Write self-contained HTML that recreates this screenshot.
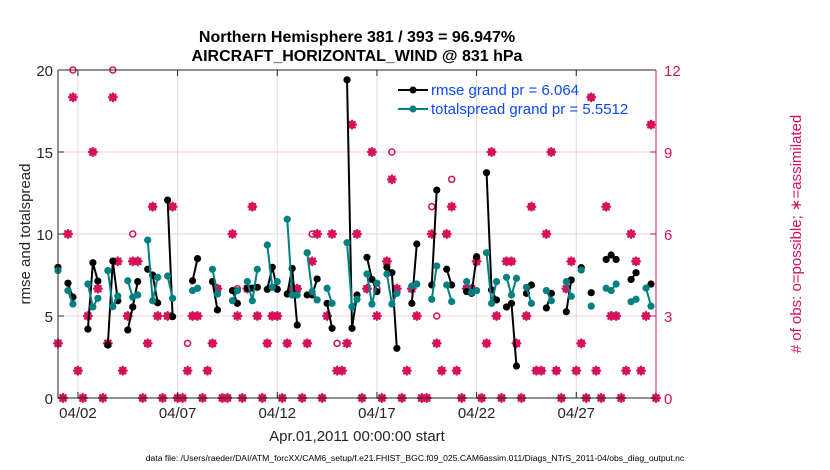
<!DOCTYPE html>
<html><head><meta charset="utf-8">
<style>
html,body{margin:0;padding:0;background:#fff;}
svg{display:block;font-family:"Liberation Sans",Arial,sans-serif;}
</style></head>
<body>
<svg id="chart" width="830" height="470" viewBox="0 0 830 470" xmlns="http://www.w3.org/2000/svg">
<g id="grid"></g>
<g id="counts"></g>
<g id="series"></g>
<g id="axes"></g>
<text x="357" y="42" text-anchor="middle" font-size="16" font-weight="bold">Northern Hemisphere 381  / 393 = 96.947%</text>
<text x="357" y="61" text-anchor="middle" font-size="16" font-weight="bold">AIRCRAFT_HORIZONTAL_WIND @ 831 hPa</text>
<text transform="translate(30,234) rotate(-90)" text-anchor="middle" font-size="15" fill="#262626">rmse and totalspread</text>
<text transform="translate(801,234) rotate(-90)" text-anchor="middle" font-size="15" fill="#d6105a"># of obs: o=possible; ∗=assimilated</text>
<text x="357" y="441" text-anchor="middle" font-size="15" fill="#262626">Apr.01,2011 00:00:00 start</text>
<text x="415" y="461" text-anchor="middle" font-size="8.6" fill="#000">data file: /Users/raeder/DAI/ATM_forcXX/CAM6_setup/f.e21.FHIST_BGC.f09_025.CAM6assim.011/Diags_NTrS_2011-04/obs_diag_output.nc</text>
<g>
  <line x1="398" y1="90" x2="428" y2="90" stroke="#000" stroke-width="2"/>
  <circle cx="413" cy="90" r="3.5" fill="#000"/>
  <text x="431" y="95" font-size="15" fill="#0a4af5">rmse grand pr = 6.064</text>
  <line x1="398" y1="109" x2="428" y2="109" stroke="#008080" stroke-width="2"/>
  <circle cx="413" cy="109" r="3.5" fill="#008080"/>
  <text x="431" y="114" font-size="15" fill="#0a4af5">totalspread grand pr = 5.5512</text>
</g>
</svg>
<script>
const N = 121;
const rmsePairs = [[0,7.97],[2,7.0],[3,6.15],[6,4.2],[7,8.25],[8,7.13],[10,3.23],[11,8.35],[12,5.93],[14,4.15],[15,5.55],[16,7.1],[18,7.85],[19,7.5],[20,5.8],[22,12.07],[23,4.96],[27,7.15],[28,8.5],[31,7.1],[32,5.37],[35,6.55],[36,5.77],[38,6.69],[39,6.7],[40,6.75],[42,6.63],[43,7.97],[44,6.63],[46,6.34],[47,7.9],[48,4.45],[50,6.28],[51,6.28],[52,7.26],[54,5.77],[55,4.25],[58,19.4],[59,4.25],[60,6.28],[62,8.58],[63,7.23],[64,6.49],[66,7.97],[67,7.64],[68,3.03],[71,5.77],[72,9.39],[75,6.89],[76,12.68],[78,7.85],[79,6.89],[82,6.49],[83,6.38],[84,8.62],[86,13.74],[87,6.59],[88,5.98],[90,5.55],[91,5.77],[92,1.95],[94,6.38],[95,6.89],[98,5.49],[99,6.38],[102,5.26],[103,7.2],[105,7.95],[107,6.42],[110,8.45],[111,8.72],[112,8.45],[115,7.23],[116,7.64],[119,6.95]];
const spreadPairs = [[0,7.77],[2,6.55],[3,5.73],[6,6.95],[7,5.55],[8,6.08],[10,7.77],[11,5.57],[12,6.22],[14,7.15],[15,6.15],[16,6.28],[18,9.63],[19,5.93],[20,7.36],[22,7.44],[23,6.08],[27,6.55],[28,6.69],[31,7.85],[32,6.34],[35,5.93],[36,6.55],[38,7.1],[39,5.93],[40,7.85],[42,9.33],[43,6.75],[44,7.1],[46,10.9],[47,6.28],[48,6.28],[50,8.86],[51,6.49],[52,5.98],[54,6.69],[55,5.77],[58,9.47],[59,5.57],[60,6.02],[62,7.56],[63,5.73],[64,7.0],[66,7.56],[67,5.73],[68,6.38],[71,6.83],[72,6.95],[75,6.02],[76,8.05],[78,6.89],[79,5.88],[82,7.1],[83,6.43],[84,6.55],[86,8.86],[87,5.77],[88,7.1],[90,7.36],[91,6.28],[92,7.3],[94,6.75],[95,5.77],[98,6.55],[99,5.93],[102,7.1],[103,6.2],[105,7.8],[107,5.6],[110,6.69],[111,6.55],[112,6.95],[115,5.87],[116,6.02],[118,6.7],[119,5.6]];
const assimilated = [2,0,6,11,1,0,3,9,4,0,2,11,5,1,3,5,5,0,2,7,3,0,3,7,0,0,1,3,3,0,1,2,4,0,0,6,3,0,4,7,3,0,2,3,3,0,2,4,4,0,2,5,6,0,3,6,1,1,2,10,6,0,4,9,3,0,5,8,4,0,1,4,3,0,0,6,2,1,6,7,1,0,4,4,5,0,2,9,3,0,5,5,2,0,3,7,1,1,6,9,1,0,4,5,1,2,0,11,1,0,7,3,3,0,1,6,5,1,3,10,0];
const possibleDiff = [[3,12],[11,12],[15,6],[26,2],[36,4],[51,6],[56,2],[64,4],[67,9],[75,7],[76,3],[79,8]];
const xTickDays = [1,6,11,16,21,26];
const xTickLabels = ["04/02","04/07","04/12","04/17","04/22","04/27"];
const yTicks = [0,5,10,15,20];
const y2Ticks = [0,3,6,9,12];

const NS="http://www.w3.org/2000/svg";
const L=58,R=656,T=70,B=398;
const xs=d=>L+(d/30)*(R-L);
const ys=v=>B-(v/20)*(B-T);
const y2s=v=>B-(v/12)*(B-T);
const xi=i=>xs(i*0.25);
function mk(tag,attrs,parent){const e=document.createElementNS(NS,tag);for(const k in attrs)e.setAttribute(k,attrs[k]);parent.appendChild(e);return e;}
const grid=document.getElementById('grid'),axes=document.getElementById('axes'),counts=document.getElementById('counts'),series=document.getElementById('series');

xTickDays.forEach((d,k)=>{
  const g=mk('line',{x1:xs(d),x2:xs(d),y1:T,y2:B,stroke:'#dcdcdc','stroke-width':1},grid);
  
  
  mk('line',{x1:xs(d),x2:xs(d),y1:B,y2:B-6,stroke:'#262626'},axes);
  mk('line',{x1:xs(d),x2:xs(d),y1:T,y2:T+6,stroke:'#262626'},axes);
  const t=mk('text',{x:xs(d),y:B+20,'text-anchor':'middle','font-size':15,fill:'#262626'},axes);
  t.textContent=xTickLabels[k];
  
  
});
y2Ticks.forEach(v=>{
  if(v>0&&v<12){const g=mk('line',{x1:L,x2:R,y1:y2s(v),y2:y2s(v),stroke:'#f7c9d8','stroke-width':1},grid);
  
  }
  mk('line',{x1:R,x2:R-6,y1:y2s(v),y2:y2s(v),stroke:'#d6105a'},axes);
  const t=mk('text',{x:R+8,y:y2s(v)+6,'font-size':15,fill:'#d6105a'},axes);
  t.textContent=v;
  
  
});
yTicks.forEach(v=>{
  mk('line',{x1:L,x2:L+6,y1:ys(v),y2:ys(v),stroke:'#262626'},axes);
  const t=mk('text',{x:L-5,y:ys(v)+6,'text-anchor':'end','font-size':15,fill:'#262626'},axes);
  t.textContent=v;
  
  
});
mk('path',{d:`M${L},${T}H${R}`,stroke:'#262626',fill:'none'},axes);
mk('path',{d:`M${L},${T}V${B}H${R}`,stroke:'#262626',fill:'none'},axes);
mk('line',{x1:R,x2:R,y1:T,y2:B,stroke:'#d6105a'},axes);

function star(cx,cy){
  const r=3.8,d=[];
  for(let a=0;a<4;a++){const t=a*Math.PI/4;d.push(`M${cx-r*Math.cos(t)},${cy-r*Math.sin(t)}L${cx+r*Math.cos(t)},${cy+r*Math.sin(t)}`);}
  const p=mk('path',{d:d.join(''),stroke:'#d6105a','stroke-width':2.4,'stroke-linecap':'round'},counts);
  
  
  const c=mk('circle',{cx:cx,cy:cy,r:3,fill:'#d6105a'},counts);
  
  
}
const possible=assimilated.slice();
possibleDiff.forEach(([i,v])=>{possible[i]=v;});
possible.forEach((v,i)=>{
  const c=mk('circle',{cx:xi(i),cy:y2s(v),r:3,fill:'none',stroke:'#d6105a','stroke-width':1.5},counts);
  
  
});
assimilated.forEach((v,i)=>star(xi(i),y2s(v)));

function drawSeries(pairs,color,name){
  const arr=new Array(N).fill(null);
  pairs.forEach(([i,v])=>{arr[i]=v;});
  let d='';
  for(let i=0;i<N;i++){
    if(arr[i]==null)continue;
    d+=(i>0&&arr[i-1]!=null?'L':'M')+xi(i)+','+ys(arr[i]);
  }
  const p=mk('path',{d:d,stroke:color,'stroke-width':2,fill:'none','stroke-linejoin':'round'},series);
  
  
  arr.forEach((v,i)=>{if(v==null)return;
    const c=mk('circle',{cx:xi(i),cy:ys(v),r:3.6,fill:color},series);
    
    
  });
}
drawSeries(rmsePairs,'#000','rmse');
drawSeries(spreadPairs,'#008080','totalspread');
</script>
</body></html>
